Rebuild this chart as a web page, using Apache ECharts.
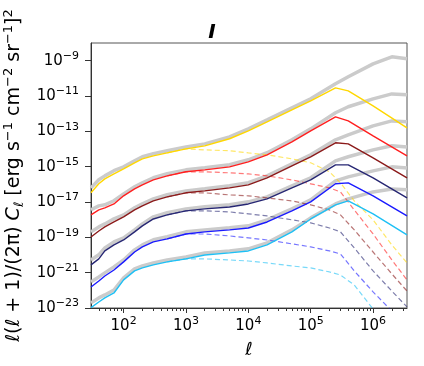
<!DOCTYPE html>
<html>
<head>
<meta charset="utf-8">
<script src="https://cdn.jsdelivr.net/npm/echarts@6.0.0/dist/echarts.min.js"></script>
<style>
  html, body { margin: 0; padding: 0; background: #fff; }
  #chart { width: 424px; height: 366px; }
</style>
</head>
<body>
<div id="chart"></div>
<script>
// multipole sampling (ell) for each family of curves
var ellSolid = [30, 40, 50, 70, 100, 150, 200, 300, 500, 1e3, 2e3, 5e3, 1e4, 2e4, 5e4, 1e5, 2.5e5, 4e5, 1e6, 3.5e6];
var ellGray  = [30, 40, 50, 70, 100, 150, 200, 300, 500, 1e3, 2e3, 5e3, 1e4, 2e4, 5e4, 1e5, 2.5e5, 4e5, 1e6, 2e6, 3.5e6];
var ellDash  = [500, 1e3, 2e3, 5e3, 1e4, 2e4, 5e4, 1e5, 2e5, 3e5, 5e5, 1e6, 2e6, 3.5e6];

// log10 of l(l+1)C_l/2pi
var yellowSolid  = [-16.48, -15.97, -15.69, -15.41, -15.12, -14.78, -14.56, -14.39, -14.22, -13.99, -13.82, -13.42, -12.97, -12.46, -11.78, -11.27, -10.54, -10.71, -11.56, -12.80];
var redSolid     = [-17.73, -17.45, -17.33, -17.11, -16.65, -16.26, -16.03, -15.75, -15.52, -15.29, -15.18, -15.01, -14.73, -14.33, -13.60, -12.97, -12.18, -12.41, -13.26, -14.39];
var darkRedSolid = [-18.98, -18.64, -18.41, -18.13, -17.84, -17.45, -17.22, -16.94, -16.71, -16.48, -16.37, -16.20, -16.03, -15.63, -14.95, -14.44, -13.65, -13.71, -14.50, -15.63];
var navySolid    = [-20.56, -20.22, -19.77, -19.43, -19.15, -18.69, -18.35, -17.96, -17.73, -17.50, -17.39, -17.28, -17.11, -16.82, -16.20, -15.75, -14.90, -14.90, -15.63, -16.77];
var blueSolid    = [-21.81, -21.47, -21.19, -20.85, -20.39, -19.83, -19.54, -19.26, -19.09, -18.81, -18.69, -18.58, -18.47, -18.13, -17.50, -16.99, -15.97, -15.92, -16.65, -17.79];
var cyanSolid    = [-22.98, -22.66, -22.43, -22.15, -21.41, -20.90, -20.73, -20.56, -20.39, -20.22, -20.00, -19.88, -19.77, -19.43, -18.69, -17.96, -17.16, -16.94, -17.67, -18.86];

var yellowGray  = [-16.20, -15.74, -15.52, -15.23, -15.01, -14.67, -14.44, -14.27, -14.10, -13.88, -13.71, -13.31, -12.86, -12.35, -11.67, -11.16, -10.31, -9.91, -9.18, -8.78, -8.89];
var redGray     = [-17.44, -17.22, -17.16, -16.93, -16.54, -16.14, -15.91, -15.63, -15.40, -15.18, -15.06, -14.89, -14.61, -14.21, -13.48, -12.86, -11.95, -11.61, -11.16, -10.88, -10.93];
var darkRedGray = [-18.69, -18.41, -18.24, -17.95, -17.73, -17.33, -17.10, -16.82, -16.59, -16.37, -16.25, -16.08, -15.91, -15.52, -14.84, -14.33, -13.48, -13.20, -12.69, -12.41, -12.46];
var navyGray    = [-20.28, -19.99, -19.60, -19.26, -19.03, -18.58, -18.24, -17.84, -17.61, -17.39, -17.27, -17.16, -16.99, -16.71, -16.08, -15.63, -14.67, -14.44, -14.05, -13.82, -13.88];
var blueGray    = [-21.52, -21.24, -21.01, -20.67, -20.28, -19.71, -19.43, -19.14, -18.97, -18.69, -18.58, -18.46, -18.35, -18.01, -17.39, -16.88, -15.80, -15.58, -15.24, -15.01, -15.07];
var cyanGray    = [-22.71, -22.43, -22.26, -21.98, -21.30, -20.79, -20.62, -20.45, -20.28, -20.11, -19.88, -19.77, -19.65, -19.31, -18.58, -17.90, -17.11, -16.82, -16.43, -16.26, -16.31];

var yellowDash  = [-14.22, -13.99, -14.05, -14.10, -14.22, -14.33, -14.56, -14.78, -15.29, -15.92, -16.94, -18.01, -19.43, -20.45];
var redDash     = [-15.52, -15.29, -15.29, -15.35, -15.41, -15.52, -15.75, -15.97, -16.20, -16.43, -17.45, -18.81, -20.28, -21.41];
var darkRedDash = [-16.71, -16.48, -16.48, -16.60, -16.65, -16.77, -16.94, -17.16, -17.45, -17.73, -18.58, -19.83, -21.07, -22.04];
var navyDash    = [-17.73, -17.50, -17.50, -17.56, -17.67, -17.79, -18.01, -18.18, -18.47, -18.69, -19.60, -20.90, -22.04, -22.94];
var blueDash    = [-19.09, -18.81, -18.81, -18.92, -19.03, -19.15, -19.37, -19.54, -19.77, -19.94, -20.90, -22.09, -23.17, -23.96];
var cyanDash    = [-20.39, -20.22, -20.22, -20.28, -20.34, -20.45, -20.62, -20.73, -20.96, -21.13, -21.70, -23.06, -24.13, -24.81];

// tick positions
var xMajor = [1e2, 1e3, 1e4, 1e5, 1e6];
var xMinor = [40, 50, 60, 70, 80, 90, 200, 300, 400, 500, 600, 700, 800, 900,
              2e3, 3e3, 4e3, 5e3, 6e3, 7e3, 8e3, 9e3, 2e4, 3e4, 4e4, 5e4, 6e4, 7e4, 8e4, 9e4,
              2e5, 3e5, 4e5, 5e5, 6e5, 7e5, 8e5, 9e5, 2e6, 3e6];
var yMajor = [1e-23, 1e-21, 1e-19, 1e-17, 1e-15, 1e-13, 1e-11, 1e-9];

var groups = [
  { color: '#ffd700', solid: yellowSolid,  gray: yellowGray,  dash: yellowDash },
  { color: '#ff1f1f', solid: redSolid,     gray: redGray,     dash: redDash },
  { color: '#8b1a1a', solid: darkRedSolid, gray: darkRedGray, dash: darkRedDash },
  { color: '#262673', solid: navySolid,    gray: navyGray,    dash: navyDash },
  { color: '#1a1aff', solid: blueSolid,    gray: blueGray,    dash: blueDash },
  { color: '#1ec0f5', solid: cyanSolid,    gray: cyanGray,    dash: cyanDash }
];

function pts(ells, logs) {
  return ells.map(function (l, i) { return [l, Math.pow(10, logs[i])]; });
}

var FONT = 'DejaVu Sans';
var series = [];
groups.forEach(function (g) {
  series.push({
    type: 'line', data: pts(ellGray, g.gray), showSymbol: false, z: 1,
    lineStyle: { color: '#cbcbcb', width: 3.5 }
  });
});
groups.forEach(function (g) {
  series.push({
    type: 'line', data: pts(ellDash, g.dash), showSymbol: false, z: 2,
    lineStyle: { color: g.color, width: 1.2, opacity: 0.6, type: [5, 3] }
  });
  series.push({
    type: 'line', data: pts(ellSolid, g.solid), showSymbol: false, z: 3,
    lineStyle: { color: g.color, width: 1.4 }
  });
});

function powLabel(v) {
  var e = Math.round(Math.log10(v));
  return '10{sup|' + String(e).replace('-', '\u2212') + '}';
}

var supStyle = { fontSize: 11, fontFamily: FONT, color: '#000', verticalAlign: 'top', lineHeight: 12 };

var myChart = echarts.init(document.getElementById('chart'));
var option = {
  animation: false,
  title: {
    text: 'I', left: 'center', top: 18,
    textStyle: { fontFamily: FONT, fontSize: 20, fontStyle: 'italic', fontWeight: 'bold', color: '#000' }
  },
  grid: { left: 91, right: 17, top: 43, bottom: 58, show: true, borderColor: '#555', borderWidth: 1, outerBoundsMode: 'none' },
  xAxis: [{
    type: 'log', min: 30, max: 3.5e6,
    name: '\u2113', nameLocation: 'middle', nameGap: 33,
    nameTextStyle: { fontFamily: FONT, fontSize: 18, fontStyle: 'italic', color: '#000' },
    axisLine: { show: true, lineStyle: { color: '#333', width: 1 } },
    axisTick: { show: true, length: 5, lineStyle: { color: '#333' }, customValues: xMajor },
    axisLabel: {
      customValues: xMajor, formatter: powLabel, margin: 8,
      fontFamily: FONT, fontSize: 15, color: '#000', lineHeight: 20,
      rich: { sup: supStyle }
    },
    splitLine: { show: false }
  }, {
    type: 'log', min: 30, max: 3.5e6, position: 'bottom',
    axisLine: { show: false },
    axisTick: { show: true, length: 3, lineStyle: { color: '#333' }, customValues: xMinor },
    axisLabel: { show: false },
    splitLine: { show: false }
  }],
  yAxis: {
    type: 'log', min: 1e-23, max: 1e-8,
    name: '\u2113(\u2113 + 1)/(2\u03c0) {it|C}{sub|\u2113} [erg s{sup|\u22121} cm{sup|\u22122} sr{sup|\u22121}]{sup|2}',
    nameLocation: 'middle', nameGap: 60,
    nameTextStyle: {
      fontFamily: FONT, fontSize: 19, color: '#000', lineHeight: 24,
      rich: {
        it: { fontFamily: FONT, fontSize: 19, fontStyle: 'italic', color: '#000' },
        sub: { fontFamily: FONT, fontSize: 13, fontStyle: 'italic', color: '#000', verticalAlign: 'bottom', lineHeight: 14 },
        sup: { fontFamily: FONT, fontSize: 13, color: '#000', verticalAlign: 'top', lineHeight: 14 }
      }
    },
    axisLine: { show: true, lineStyle: { color: '#333', width: 1 } },
    axisTick: { show: true, length: 6, lineStyle: { color: '#333' }, customValues: yMajor },
    axisLabel: {
      customValues: yMajor, formatter: powLabel, margin: 12,
      fontFamily: FONT, fontSize: 15, color: '#000', lineHeight: 20,
      rich: { sup: supStyle }
    },
    splitLine: { show: false }
  },
  series: series
};
myChart.setOption(option);
</script>
</body>
</html>
